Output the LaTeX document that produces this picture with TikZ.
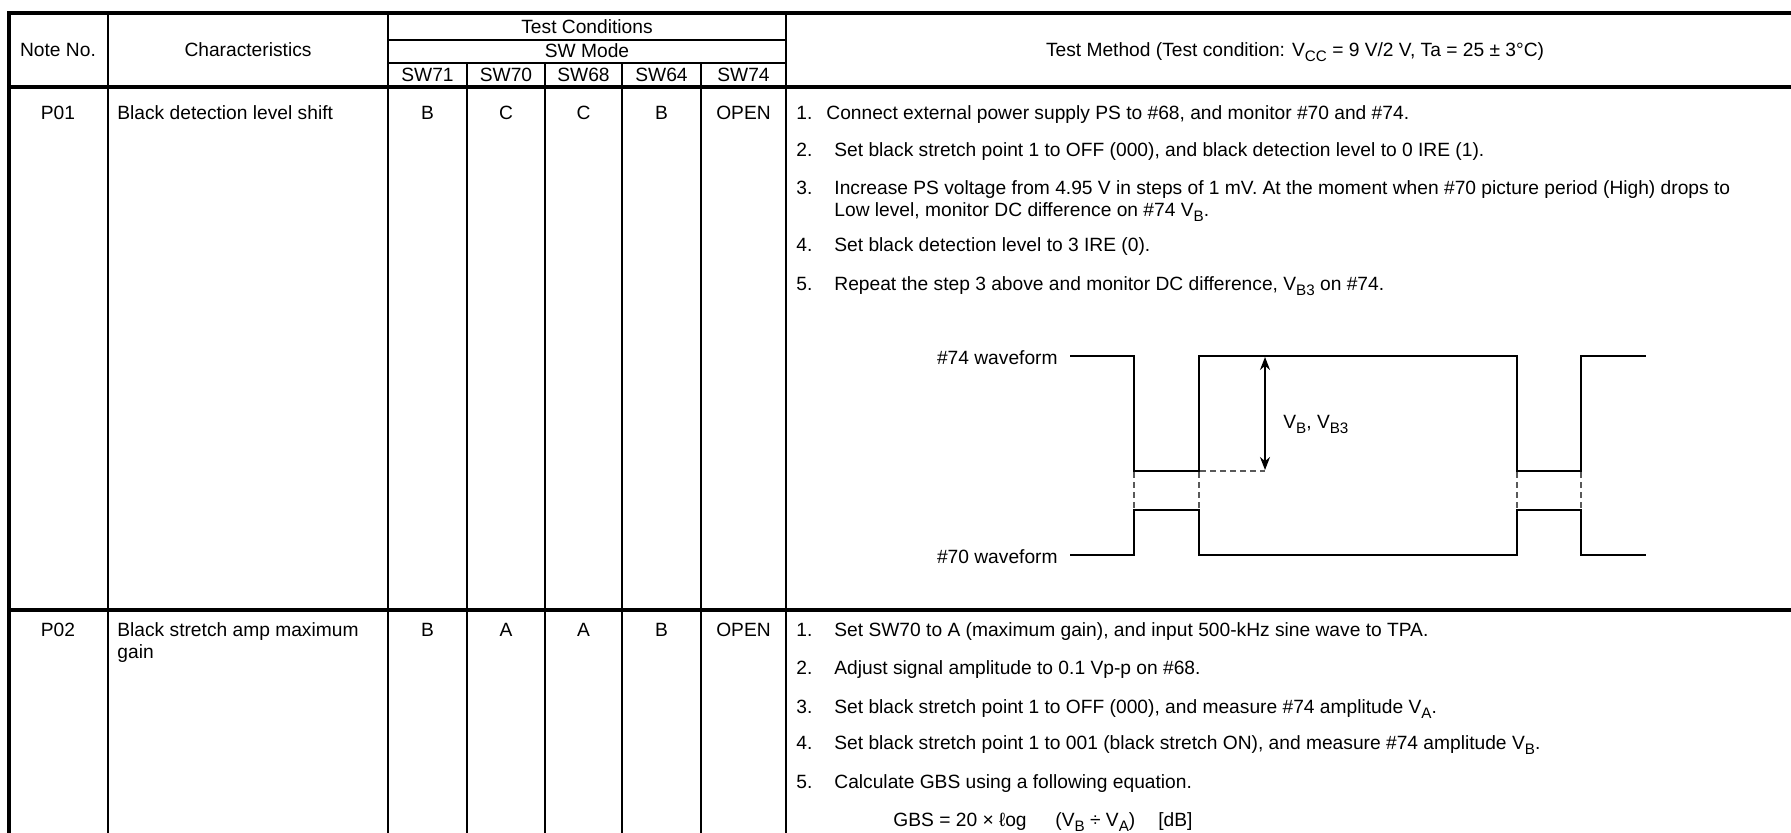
\documentclass[tikz,border=0pt]{standalone}
\usepackage{fontspec}
\setmainfont{Liberation Sans}
\usetikzlibrary{arrows.meta}

\newcommand{\sbx}[1]{\raisebox{-0.45ex}{\fontsize{7.6}{7.6}\selectfont #1}}

\tikzset{
	txt/.style={inner sep=0pt, anchor=base, font=\fontsize{9.6}{11.3}\selectfont},
	txtl/.style={txt, anchor=base west},
	frame/.style={line width=1.8pt},
	rule/.style={line width=0.9pt},
	wave/.style={line width=1.2pt},
	guide/.style={line width=0.7pt, black!65, dash pattern=on 3pt off 2pt}
}

\begin{document}
\begin{tikzpicture}[x=0.5pt, y=-0.5pt, >={Stealth[length=6.5pt,width=5pt]}]
	\useasboundingbox (0,0) rectangle (1791,833);
	
	%columns
	\draw[rule] (108,13) -- (108,833);
	\draw[rule] (388,13) -- (388,833);
	\foreach \x in {467,545,622,701} \draw[rule] (\x,63) -- (\x,833);
	\draw[rule, line width=1.3pt] (786,13) -- (786,833);
	\draw[rule] (388,40) -- (786,40);
	\draw[rule] (388,63) -- (786,63);
	
	%frame
	\draw[frame] (9,833) -- (9,13) -- (1791,13);
	\draw[frame] (9,87) -- (1791,87);
	\draw[frame] (9,610) -- (1791,610);
	
	%header
	\node[txt] (noteno) at (58,56.5) {Note No.};
	\node[txt] (charac) at (248,56.5) {Characteristics};
	\node[txt] (testcond) at (587,33.5) {Test Conditions};
	\node[txt] (swmode) at (587,58) {SW Mode};
	\foreach \n/\x in {71/427.5, 70/506, 68/583.5, 64/661.5, 74/743.5}
		\node[txt] (sw\n) at (\x,81.5) {SW\n};
	\node[txt] (method) at (1295,56.5) {Test Method (Test condition: V\sbx{CC} = 9 V/2 V, Ta = 25 ± 3°C)};
	
	%row P01
	\node[txt] (p01) at (58,119.5) {P01};
	\node[txtl] (p01name) at (117,119.5) {Black detection level shift};
	\foreach \x/\v [count=\i] in {427.5/B, 506/C, 583.5/C, 661.5/B, 743.5/OPEN}
		\node[txt] (p01sw\i) at (\x,119.5) {\v};
	\node[txtl] (p01n1) at (796,119.5) {1.};
	\node[txtl] (p01s1) at (826,119.5) {Connect external power supply PS to \#68, and monitor \#70 and \#74.};
	\node[txtl] (p01n2) at (796,156.5) {2.};
	\node[txtl] (p01s2) at (834,156.5) {Set black stretch point 1 to OFF (000), and black detection level to 0 IRE (1).};
	\node[txtl] (p01n3) at (796,194.5) {3.};
	\node[txtl] (p01s3) at (834,194.5) {Increase PS voltage from 4.95 V in steps of 1 mV. At the moment when \#70 picture period (High) drops to};
	\node[txtl] (p01s3b) at (834,216.5) {Low level, monitor DC difference on \#74 V\sbx{B}.};
	\node[txtl] (p01n4) at (796,251.5) {4.};
	\node[txtl] (p01s4) at (834,251.5) {Set black detection level to 3 IRE (0).};
	\node[txtl] (p01n5) at (796,290.5) {5.};
	\node[txtl] (p01s5) at (834,290.5) {Repeat the step 3 above and monitor DC difference, V\sbx{B3} on \#74.};
	
	%waveforms
	\draw[wave] (1070,356) -- (1134,356) -- (1134,471) -- (1199,471) -- (1199,356) -- (1517,356)
		-- (1517,471) -- (1581,471) -- (1581,356) -- (1646,356);
	\draw[wave] (1070,555) -- (1134,555) -- (1134,510) -- (1199,510) -- (1199,555) -- (1517,555)
		-- (1517,510) -- (1581,510) -- (1581,555) -- (1646,555);
	\foreach \x in {1134,1199,1517,1581} \draw[guide] (\x,472) -- (\x,509);
	\draw[guide] (1200,471) -- (1265,471);
	\coordinate (vtop) at (1265,357);
	\coordinate (vbot) at (1265,470);
	\draw[<->, line width=0.8pt] (vtop) -- (vbot);
	\node[txt, anchor=base east] (w74) at (1058,364.5) {\#74 waveform};
	\node[txt, anchor=base east] (w70) at (1058,563.5) {\#70 waveform};
	\node[txtl] (vb) at (1283,428.5) {V\sbx{B}, V\sbx{B3}};
	
	%row P02
	\node[txt] (p02) at (58,636.5) {P02};
	\node[txtl] (p02name) at (117,636.5) {Black stretch amp maximum};
	\node[txtl] (p02nameb) at (117,658.5) {gain};
	\foreach \x/\v [count=\i] in {427.5/B, 506/A, 583.5/A, 661.5/B, 743.5/OPEN}
		\node[txt] (p02sw\i) at (\x,636.5) {\v};
	\node[txtl] (p02n1) at (796,636.5) {1.};
	\node[txtl] (p02s1) at (834,636.5) {Set SW70 to A (maximum gain), and input 500-kHz sine wave to TPA.};
	\node[txtl] (p02n2) at (796,674.5) {2.};
	\node[txtl] (p02s2) at (834,674.5) {Adjust signal amplitude to 0.1 Vp-p on \#68.};
	\node[txtl] (p02n3) at (796,713.5) {3.};
	\node[txtl] (p02s3) at (834,713.5) {Set black stretch point 1 to OFF (000), and measure \#74 amplitude V\sbx{A}.};
	\node[txtl] (p02n4) at (796,749.5) {4.};
	\node[txtl] (p02s4) at (834,749.5) {Set black stretch point 1 to 001 (black stretch ON), and measure \#74 amplitude V\sbx{B}.};
	\node[txtl] (p02n5) at (796,788.5) {5.};
	\node[txtl] (p02s5) at (834,788.5) {Calculate GBS using a following equation.};
	\node[txtl] (gbs) at (893,826.5) {GBS = 20 × ℓog\hspace{1.5em}(V\sbx{B} ÷ V\sbx{A})\hspace{1.2em}[dB]};
	
	%\draw[help lines] (0,0) grid (1791,833);
\end{tikzpicture}
\end{document}
